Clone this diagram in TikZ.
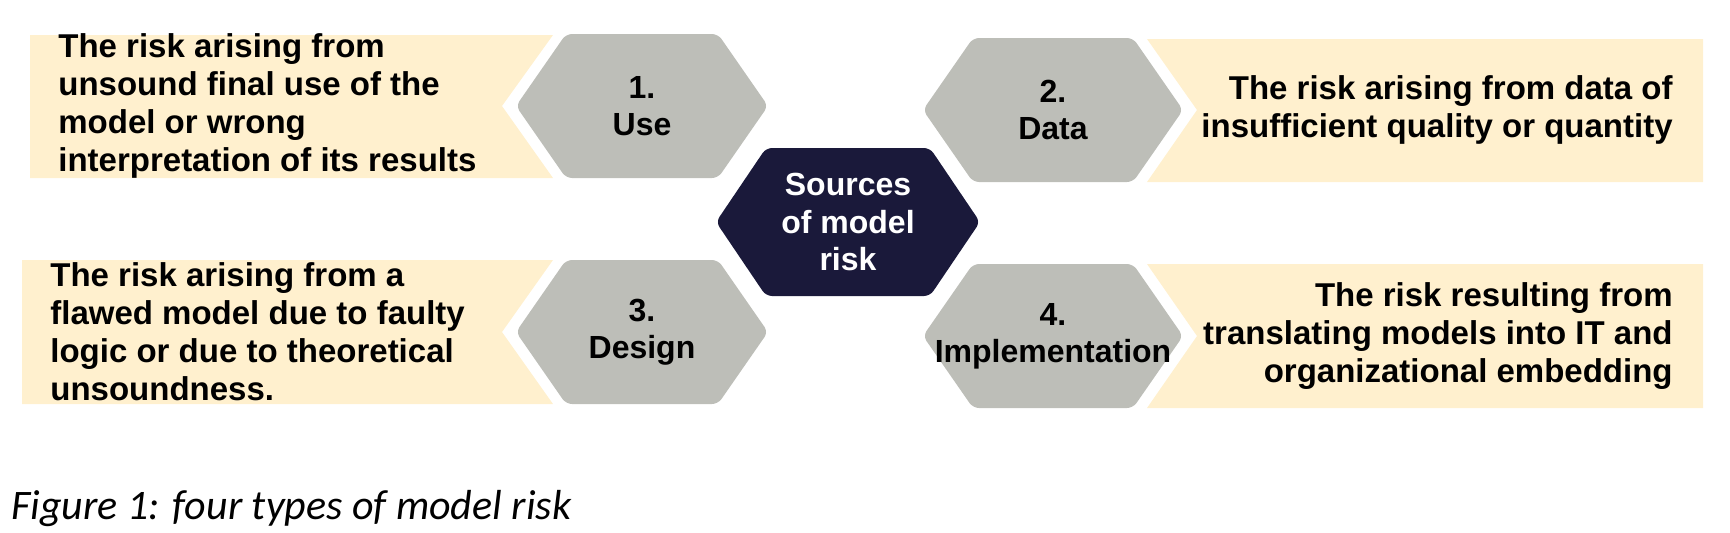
\documentclass[tikz,border=0pt]{standalone}
\usepackage{fontspec}
\setmainfont{Liberation Sans}
\newfontfamily\capfont{Carlito}
\usepackage{xcolor}
\usepackage{tikz}
\definecolor{tanfill}{RGB}{255,240,206}
\definecolor{hexgrey}{RGB}{189,190,184}
\definecolor{navyhex}{RGB}{26,25,58}
\tikzset{
  tanbox/.style={fill=tanfill},
  greyhex/.style={fill=hexgrey,rounded corners=3pt},
  darkhex/.style={fill=navyhex,rounded corners=3pt},
  risktext/.style={font=\bfseries\fontsize{16.5}{19}\selectfont,inner sep=0pt},
  hexlabel/.style={font=\bfseries\fontsize{16}{18.5}\selectfont,align=center,inner sep=0pt},
}

\begin{document}
\begin{tikzpicture}[x=0.5pt,y=-0.5pt]
                    \useasboundingbox (0,0) rectangle (1730,532);
                    % text boxes
                    \fill[tanbox] (30,35) -- (553,35) -- (502,106) -- (553,178) -- (30,178) -- cycle;
                    \fill[tanbox] (22,260) -- (553,260) -- (502,332) -- (553,404) -- (22,404) -- cycle;
                    \fill[tanbox] (1147,39) -- (1703,39) -- (1703,182) -- (1147,182) -- (1197,110) -- cycle;
                    \fill[tanbox] (1147,264) -- (1703,264) -- (1703,408) -- (1147,408) -- (1197,336) -- cycle;
                    % hexagons
                    \fill[greyhex] (516,106) -- (566,34) -- (718,34) -- (768,106) -- (718,178) -- (566,178) -- cycle;
                    \fill[greyhex] (516,332) -- (566,260) -- (718,260) -- (768,332) -- (718,404) -- (566,404) -- cycle;
                    \fill[greyhex] (923,110) -- (973,38) -- (1133,38) -- (1183,110) -- (1133,182) -- (973,182) -- cycle;
                    \fill[greyhex] (923,336) -- (973,264) -- (1133,264) -- (1183,336) -- (1133,408) -- (973,408) -- cycle;
                    \fill[darkhex] (716,222) -- (766,148) -- (930,148) -- (980,222) -- (930,296) -- (766,296) -- cycle;

                    \node[hexlabel] (use) at (642,106) {1.\\Use};
                    \node[hexlabel] (design) at (642,332) {3.\\Design};
                    \node[hexlabel] (data) at (1053,110) {2.\\Data};
                    \node[hexlabel] (impl) at (1053,336) {4.\\Implementation};
                    \node[hexlabel,text=white,font=\bfseries\fontsize{16}{18.75}\selectfont] (sources) at (848,222) {Sources\\of model\\risk};

                    \node[risktext,anchor=west,align=left] (usetext) at (58,106) {The risk arising from\\unsound final use of the\\model or wrong\\interpretation of its results};
                    \node[risktext,anchor=west,align=left] (designtext) at (50,332) {The risk arising from a\\flawed model due to faulty\\logic or due to theoretical\\unsoundness.};
                    \node[risktext,anchor=east,align=right] (datatext) at (1673,110) {The risk arising from data of\\insufficient quality or quantity};
                    \node[risktext,anchor=east,align=right] (impltext) at (1673,336) {The risk resulting from\\translating models into IT and\\organizational embedding};

                    \node[anchor=base west,inner sep=0pt,font=\capfont\itshape\fontsize{21}{24}\selectfont] (caption) at (11,519) {Figure 1: four types of model risk};
\end{tikzpicture}
\end{document}
